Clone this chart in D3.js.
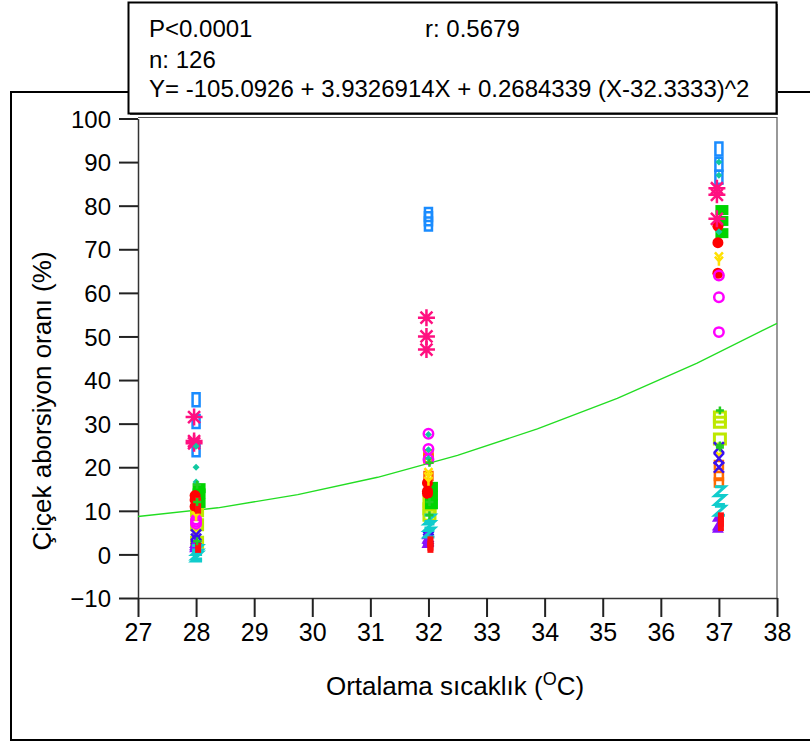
<!DOCTYPE html>
<html>
<head>
<meta charset="utf-8">
<script src="https://cdn.jsdelivr.net/npm/d3@7"></script>
<style>
  html, body { margin: 0; padding: 0; background: #fff; }
  svg { display: block; font-family: "Liberation Sans", Arial, sans-serif; }
</style>
</head>
<body>
<svg id="chart" width="810" height="742"></svg>
<script>
// ---------- data ----------
const xTicks = [27, 28, 29, 30, 31, 32, 33, 34, 35, 36, 37, 38];
const yTicks = [-10, 0, 10, 20, 30, 40, 50, 60, 70, 80, 90, 100];
const temps = [28, 28, 28, 32, 32, 32, 37, 37, 37];

const blueRect     = [35.5, 30.5, 24.0, 78.0, 77.0, 75.8, 93.0, 89.5, 86.5];
const orangeSquare = [10.5, 10.0, 9.5, 23.0, 22.0, 18.0, 20.5, 18.0, 16.5];
const ygSquare     = [10.0, 6.8, 2.8, 12.0, 10.5, 9.0, 31.5, 30.3, 26.5];
const greenSquare  = [15.2, 14.0, 11.8, 15.5, 13.5, 11.5, 79.0, 76.5, 73.7];
const redCircle    = [13.5, 12.5, 11.0, 16.4, 14.0, 14.5, 75.3, 71.5, 64.5];
const magentaRing  = [8.0, 7.5, 7.0, 27.7, 24.2, 21.8, 64.0, 59.0, 51.0];
const pinkStar     = [31.5, 26.0, 25.5, 54.3, 50.0, 47.0, 84.0, 82.5, 77.0];
const tealDot      = [24.8, 20.0, 16.6, 27.5, 24.0, 22.0, 90.0, 87.0, 74.0];
const yellowTri    = [5.0, 4.0, 9.0, 19.0, 18.0, 17.0, 68.5, 67.5, 23.0];
const blueX        = [4.5, 3.5, 2.0, 4.0, 3.0, 3.5, 24.5, 22.0, 20.0];
const purpleTri    = [2.0, 1.5, 2.5, 4.5, 3.5, 2.5, 8.5, 6.5, 6.0];
const cyanZ        = [1.0, 0.0, -0.5, 8.0, 6.5, 5.0, 14.5, 12.5, 10.0];
const redBar       = [12.0, 10.5, 1.5, 2.0, 1.5, 3.0, 8.5, 7.5, 6.5];
const greenPlus    = [16.0, 12.0, 3.0, 21.0, 12.0, 9.0, 33.0, 24.5, 25.0];

// fitted curve
const fitX = [27, 28.375, 29.75, 31.125, 32.5, 33.875, 35.25, 36.625, 38];
const fitY = [8.7, 10.7, 13.7, 17.7, 22.7, 28.8, 35.8, 43.9, 53.0];

const statLines = ["P<0.0001", "n: 126", "Y= -105.0926 + 3.9326914X + 0.2684339 (X-32.3333)^2"];
const statR = "r: 0.5679";

// ---------- drawing ----------
const svg = d3.select("#chart");
const x = d3.scaleLinear().domain([27, 38]).range([138, 777]);
const y = d3.scaleLinear().domain([-10, 100]).range([598, 118.5]);

// outer frame
svg.append("path")
  .attr("d", "M810,92 H11 V740 H810")
  .attr("fill", "none").attr("stroke", "#000").attr("stroke-width", 2);

// plot frame (top + right)
svg.append("path")
  .attr("d", `M${x(27)},${y(100)-1} H${x(38)} V${y(-10)}`)
  .attr("fill", "none").attr("stroke", "#555").attr("stroke-width", 1.2);

// axes
const yAxis = svg.append("g")
  .attr("transform", `translate(${x(27)},0)`)
  .call(d3.axisLeft(y).tickValues(yTicks).tickSize(19).tickSizeOuter(0).tickPadding(8));
const xAxis = svg.append("g")
  .attr("transform", `translate(0,${y(-10)})`)
  .call(d3.axisBottom(x).tickValues(xTicks).tickSize(19).tickSizeOuter(0).tickPadding(6));
[yAxis, xAxis].forEach(g => {
  g.select(".domain").attr("stroke", "#333").attr("stroke-width", 1.5);
  g.selectAll(".tick line").attr("stroke", "#222").attr("stroke-width", 2);
  g.selectAll(".tick text").attr("fill", "#000").style("font-size", "24px")
    .style("font-family", "'Liberation Sans', Arial, sans-serif");
});
yAxis.selectAll(".tick text").attr("dy", "0.36em");
xAxis.selectAll(".tick text").style("font-size", "25px");

// axis titles
svg.append("text")
  .attr("transform", "translate(51,401) rotate(-90)")
  .attr("text-anchor", "middle")
  .style("font-size", "26px")
  .text("Çiçek aborsiyon oranı (%)");

const xt = svg.append("text")
  .attr("x", 455).attr("y", 695)
  .attr("text-anchor", "middle")
  .style("font-size", "26px");
xt.append("tspan").text("Ortalama sıcaklık (");
xt.append("tspan").attr("dy", -10).style("font-size", "18px").text("O");
xt.append("tspan").attr("dy", 10).text("C)");

// fitted curve
svg.append("path")
  .datum(fitX.map((v, i) => [v, fitY[i]]))
  .attr("d", d3.line().x(d => x(d[0])).y(d => y(d[1])))
  .attr("fill", "none").attr("stroke", "#22dd22").attr("stroke-width", 1.3);

// symbol shapes
function shape(type) {
  switch (type) {
    case "rect": return "M-3.5,-6.5 H3.5 V6.5 H-3.5 Z";
    case "osq": return "M-4,-4 H4 V4 H-4 Z";
    case "ygsq": return "M-5.5,-5 H5.5 V5 H-5.5 Z";
    case "gsq": return "M-6.5,-5 H6.5 V5 H-6.5 Z";
    case "circle": return d3.symbol(d3.symbolCircle, 95)();
    case "ring": return d3.symbol(d3.symbolCircle, 70)();
    case "star": return "M0,-8.5 V8.5 M-8.5,0 H8.5 M-6,-6 L6,6 M-6,6 L6,-6";
    case "dot": return "M0,-3.5 L3.5,0 L0,3.5 L-3.5,0 Z";
    case "tri": return "M0,1 V5.5 M0,1 L-4,-3.5 M0,1 L4,-3.5";
    case "x": return "M-5,-5.5 L5,5.5 M-5,5.5 L5,-5.5";
    case "ptri": return "M0,-5.5 L6,4.5 L-6,4.5 Z";
    case "z": return "M-5,-4.5 H5 L-5,4.5 H5";
    case "bar": return "M-3,-5 H3 V5 H-3 Z";
    case "plus": return "M0,-4 V4 M-4,0 H4";
  }
}

const series = [
  { v: blueRect,     type: "rect",   color: "#1a8cff", fill: false, sw: 2.5, dx: 0 },
  { v: orangeSquare, type: "osq",    color: "#ff6a00", fill: false, sw: 2.5, dx: 0 },
  { v: ygSquare,     type: "ygsq",   color: "#bde800", fill: false, sw: 3,   dx: 1 },
  { v: greenSquare,  type: "gsq",    color: "#00d400", fill: true,  sw: 0,   dx: 3 },
  { v: redCircle,    type: "circle", color: "#ff0000", fill: true,  sw: 0,   dx: -1 },
  { v: magentaRing,  type: "ring",   color: "#ff00ff", fill: false, sw: 2.5, dx: 0 },
  { v: pinkStar,     type: "star",   color: "#ff1080", fill: false, sw: 2.5, dx: -2 },
  { v: tealDot,      type: "dot",    color: "#10c8a0", fill: true,  sw: 0,   dx: 0 },
  { v: yellowTri,    type: "tri",    color: "#ffe000", fill: false, sw: 2.5, dx: 0 },
  { v: blueX,        type: "x",      color: "#3a10f0", fill: false, sw: 2.5, dx: 0 },
  { v: purpleTri,    type: "ptri",   color: "#8a10ff", fill: true,  sw: 0,   dx: -1 },
  { v: cyanZ,        type: "z",      color: "#10cccc", fill: false, sw: 3,   dx: 1 },
  { v: redBar,       type: "bar",    color: "#ff1010", fill: true,  sw: 0,   dx: 2 },
  { v: greenPlus,    type: "plus",   color: "#22cc22", fill: false, sw: 2.5, dx: 1 }
];

const pts = svg.append("g");
series.forEach(s => {
  pts.append("g").selectAll("path")
    .data(s.v.map((v, i) => [temps[i], v]))
    .join("path")
    .attr("d", shape(s.type))
    .attr("transform", d => `translate(${x(d[0]) + s.dx},${y(d[1])})`)
    .attr("fill", s.fill ? s.color : "none")
    .attr("stroke", s.fill ? "none" : s.color)
    .attr("stroke-width", s.sw);
});

// stats box
const box = svg.append("g");
box.append("rect").attr("x", 130).attr("y", 4).attr("width", 648).attr("height", 111)
  .attr("fill", "#555");
box.append("rect").attr("x", 128.5).attr("y", 2.5).attr("width", 648).attr("height", 111)
  .attr("fill", "#fff").attr("stroke", "#000").attr("stroke-width", 2);
const ty = [37, 68, 97];
statLines.forEach((t, i) => {
  box.append("text").attr("x", 149).attr("y", ty[i]).style("font-size", "24px").text(t);
});
box.append("text").attr("x", 425).attr("y", ty[0]).style("font-size", "24px").text(statR);
</script>
</body>
</html>
